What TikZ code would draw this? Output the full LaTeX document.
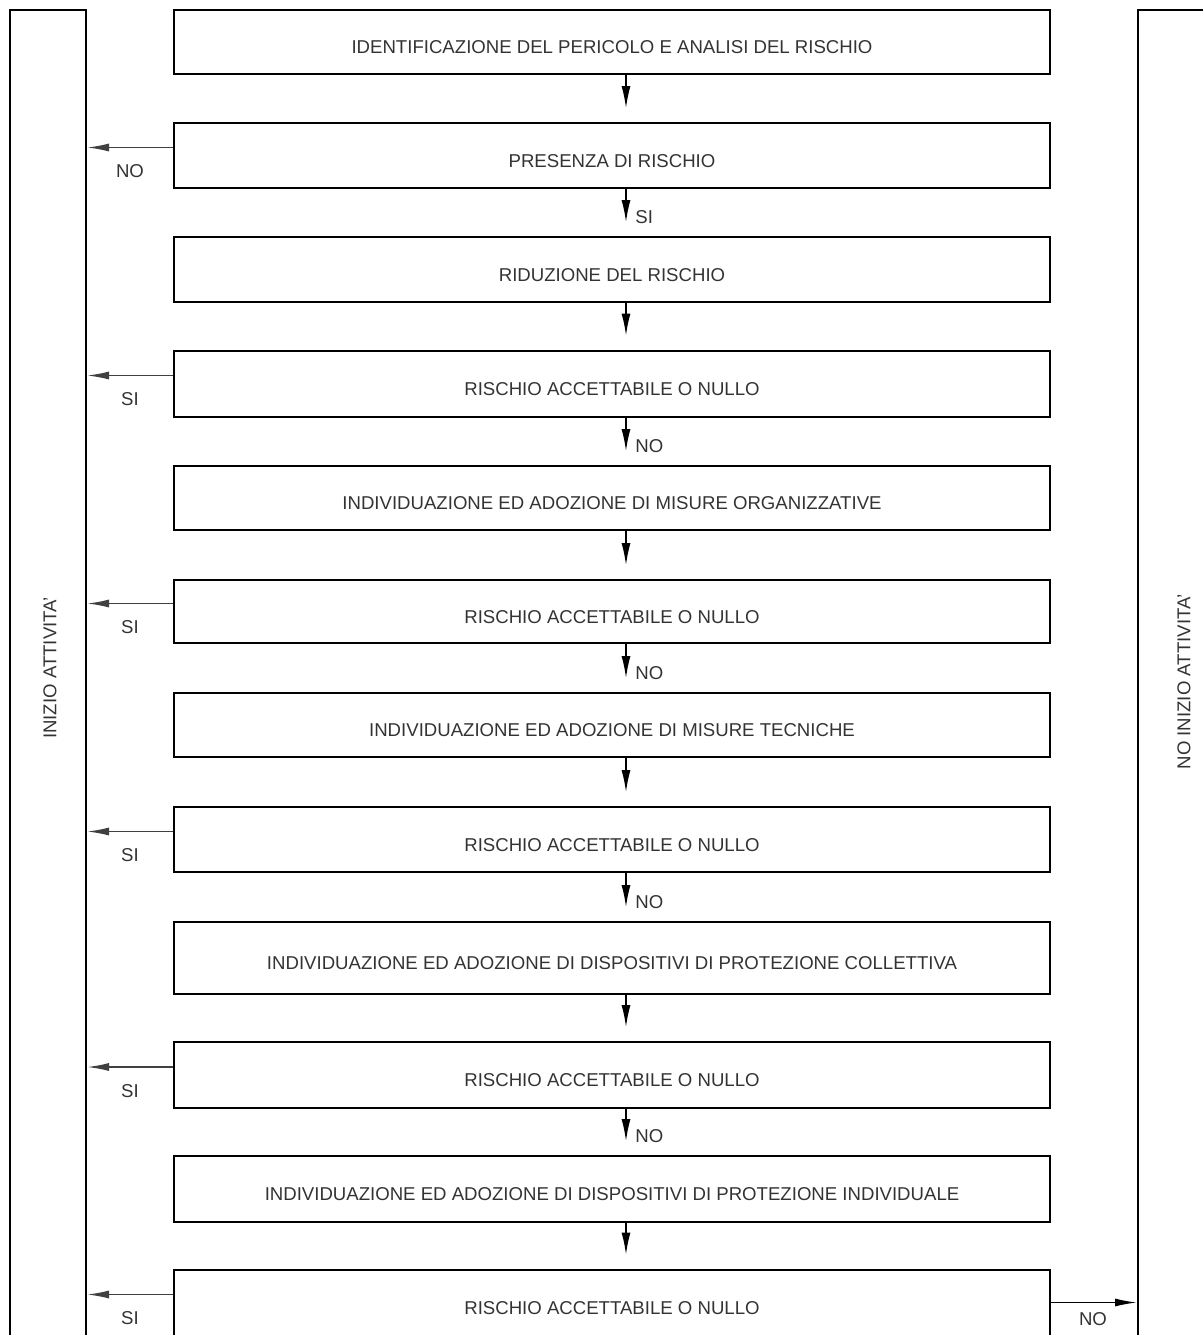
\documentclass[tikz,border=0pt]{standalone}
\usepackage{fontspec}
\setmainfont{Liberation Sans}
\usetikzlibrary{arrows.meta}

\begin{document}
\begin{tikzpicture}
[x=0.5pt,y=-0.5pt,%
  boxDecorate/.style={draw,line width=1pt,minimum width=438pt,inner sep=0pt,text=black!80,
    text height=11.7pt,text depth=0pt},%
  colDecorate/.style={draw,line width=1pt,inner sep=0pt},%
  sideDecorate/.style={-{Latex[length=11pt,width=4pt]},line width=0.8pt,black!75},%
  downDecorate/.style={-{Latex[length=11pt,width=4.5pt]},line width=0.7pt,shorten >=7pt},%
  labelDecorate/.style={inner sep=0pt,text=black!80}]
\fontsize{9.3}{11}\selectfont
\useasboundingbox (0,0) rectangle (1203,1335);
\clip (0,0) rectangle (1203,1335);
%% side columns
\node (inizio) at (48,685) [colDecorate,minimum width=38pt,minimum height=675pt] {};
\node (noinizio) at (1204,685) [colDecorate,minimum width=66pt,minimum height=675pt] {};
\node (inizioText) at (50,668) [rotate=90,labelDecorate] {INIZIO ATTIVITA'};
\node (noinizioText) at (1184,682) [rotate=90,labelDecorate] {NO INIZIO ATTIVITA'};
%% steps
\foreach \nodename/\y/\h/\txt in {b1/42/32pt/IDENTIFICAZIONE DEL PERICOLO E ANALISI DEL RISCHIO,
  b2/155.5/32.5pt/PRESENZA DI RISCHIO,
  b3/269.5/32.5pt/RIDUZIONE DEL RISCHIO,
  b4/383.5/33pt/RISCHIO ACCETTABILE O NULLO,
  b5/498/32pt/INDIVIDUAZIONE ED ADOZIONE DI MISURE ORGANIZZATIVE,
  b6/611.5/31.5pt/RISCHIO ACCETTABILE O NULLO,
  b7/725/32pt/INDIVIDUAZIONE ED ADOZIONE DI MISURE TECNICHE,
  b8/839.5/32.5pt/RISCHIO ACCETTABILE O NULLO,
  b9/958/36pt/INDIVIDUAZIONE ED ADOZIONE DI DISPOSITIVI DI PROTEZIONE COLLETTIVA,
  b10/1075/33pt/RISCHIO ACCETTABILE O NULLO,
  b11/1189/33pt/INDIVIDUAZIONE ED ADOZIONE DI DISPOSITIVI DI PROTEZIONE INDIVIDUALE,
  b12/1302.5/33pt/RISCHIO ACCETTABILE O NULLO}
{
  \node (\nodename) at (612,\y) [boxDecorate,minimum height=\h] {\txt};
}
%% arrows down
\foreach \startnode/\endnode/\lab in {b1/b2/, b2/b3/SI, b3/b4/, b4/b5/NO, b5/b6/, b6/b7/NO,
  b7/b8/, b8/b9/NO, b9/b10/, b10/b11/NO, b11/b12/}
{
  \draw[downDecorate] ([xshift=7pt]\startnode.south) -- ([xshift=7pt]\endnode.north);
  \node (\startnode down) at ([xshift=11.5pt,yshift=9.5pt]\endnode.north) [labelDecorate,anchor=west] {\lab};
}
%% arrows to the left column
\foreach \nodename/\lab in {b2/NO, b4/SI, b6/SI, b8/SI, b10/SI, b12/SI}
{
  \draw[sideDecorate] ([yshift=4pt]\nodename.west) -- ([yshift=4pt]\nodename.west -| inizio.east);
  \node (\nodename side) at ([xshift=21.5pt,yshift=-8pt]\nodename.west -| inizio.east) [labelDecorate] {\lab};
}
%% arrow to the right column
\draw[sideDecorate,black] (b12.east) -- (b12.east -| noinizio.west);
\node (b12right) at ([xshift=21pt,yshift=-8.5pt]b12.east) [labelDecorate] {NO};
\end{tikzpicture}
\end{document}
